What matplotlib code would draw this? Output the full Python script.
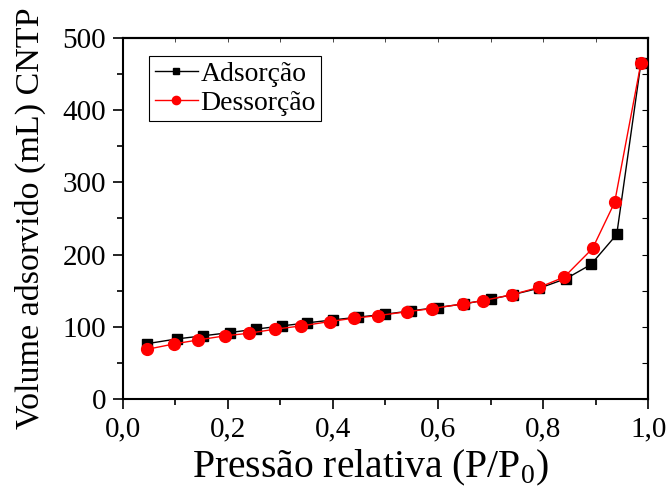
import matplotlib.pyplot as plt
from matplotlib.ticker import MultipleLocator, FuncFormatter

# ============================
# Data (read from the isotherm)
# ============================

p_ads = [0.047, 0.103, 0.152, 0.204, 0.253, 0.303, 0.351, 0.400, 0.448, 0.500,
         0.548, 0.599, 0.650, 0.700, 0.743, 0.793, 0.844, 0.891, 0.940, 0.986]
v_ads = [77, 83.5, 87.7, 92.3, 97, 101.5, 105.7, 109.8, 113.6, 117.7,
         122.3, 126.9, 132, 138.5, 144.9, 153.7, 167, 186.4, 228, 465]

p_des = [0.047, 0.098, 0.143, 0.194, 0.241, 0.290, 0.340, 0.394, 0.440, 0.486,
         0.540, 0.589, 0.648, 0.686, 0.740, 0.793, 0.840, 0.894, 0.936, 0.986]
v_des = [69.2, 76.6, 82, 87.7, 91.4, 97, 101.5, 107.5, 112.2, 115.8,
         121, 125.5, 132, 136.6, 144.5, 155, 169, 208.6, 272.3, 465]

# ============================
# Plot
# ============================

plt.rcParams['font.family'] = 'Liberation Serif'
plt.rcParams['mathtext.fontset'] = 'custom'
plt.rcParams['mathtext.rm'] = 'Liberation Serif'

fig = plt.figure(figsize=(6.72, 4.92), dpi=100)
ax = fig.add_axes([0.1826, 0.1884, 0.7821, 0.735])

ax.plot(p_ads, v_ads, color='black', lw=1.0, marker='s', ms=7,
        mfc='black', mec='black', label='Adsorção', zorder=2)
ax.plot(p_des, v_des, color='red', lw=1.0, marker='o', ms=8.5,
        mfc='red', mec='red', label='Dessorção', zorder=3)

ax.set_xlim(0, 1.0)
ax.set_ylim(0, 500)

ax.xaxis.set_major_locator(MultipleLocator(0.2))
ax.xaxis.set_minor_locator(MultipleLocator(0.1))
ax.yaxis.set_major_locator(MultipleLocator(100))
ax.yaxis.set_minor_locator(MultipleLocator(50))
ax.xaxis.set_major_formatter(FuncFormatter(lambda v, pos: f'{v:.1f}'.replace('.', ',')))

ax.tick_params(which='both', direction='out', labelsize=21, width=1.2, pad=5)
ax.tick_params(which='major', length=7)
ax.tick_params(which='minor', length=4)

# mirrored inward ticks on top and right
top = ax.secondary_xaxis('top')
top.xaxis.set_major_locator(MultipleLocator(0.1))
top.tick_params(direction='in', length=3, width=0.5, labeltop=False)
top.set_xticklabels([])
right = ax.secondary_yaxis('right')
right.yaxis.set_major_locator(MultipleLocator(50))
right.tick_params(direction='in', length=4, width=0.8, labelright=False)
right.set_yticklabels([])

for s in ax.spines.values():
    s.set_linewidth(1.5)
top.spines['top'].set_linewidth(1.5)
right.spines['right'].set_linewidth(1.5)

ax.set_xlabel('Pressão relativa (P/P$_0$)', fontsize=28.5, labelpad=1)
ax.xaxis.set_label_coords(0.472, -0.135, transform=ax.transAxes)
ax.xaxis.label.set_va('top')
ax.set_ylabel('Volume adsorvido (mL) CNTP', fontsize=24.5, labelpad=12)

leg = ax.legend(loc='upper left', bbox_to_anchor=(0.05, 0.95), fontsize=20,
                markerscale=0.7, handlelength=1.55, handletextpad=0.1,
                borderpad=0.2, labelspacing=0.12, fancybox=False,
                framealpha=1, edgecolor='black', borderaxespad=0)
leg.get_frame().set_linewidth(0.8)

plt.savefig('out.png', dpi=100)
